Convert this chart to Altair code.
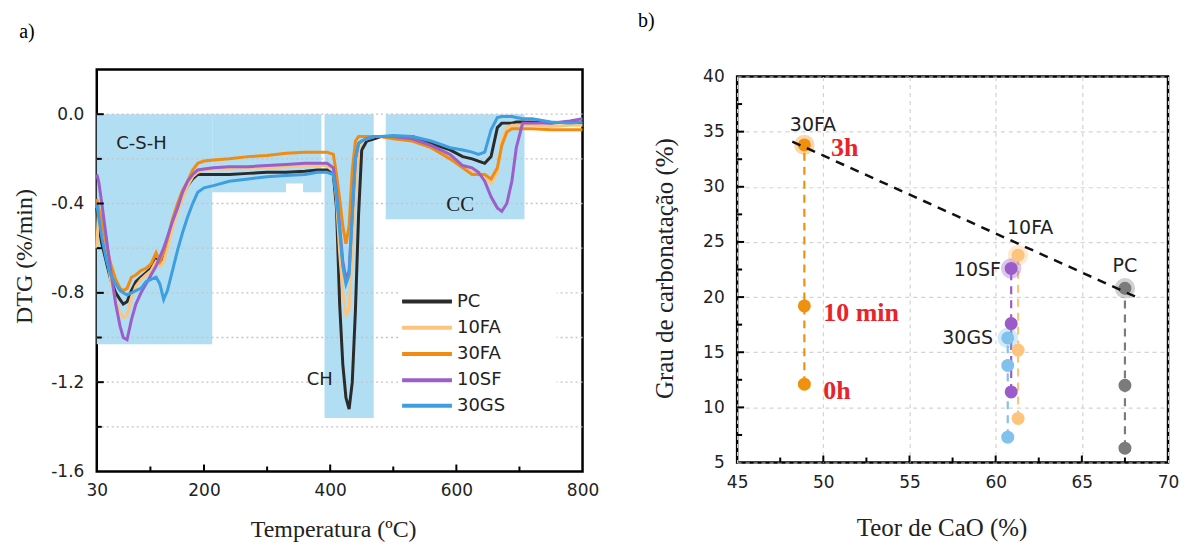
import altair as alt
import pandas as pd

# ---------------- Panel a) DTG curves ----------------
temperature = [30, 33, 38, 45, 52, 60, 67, 72, 78, 85,
               92, 100, 108, 116, 124, 130, 136, 142, 150, 158,
               166, 174, 182, 190, 200, 215, 240, 270, 300, 330,
               360, 380, 395, 405, 410, 415, 420, 425, 430, 435,
               440, 445, 450, 458, 470, 480, 500, 530, 560, 590,
               610, 625, 635, 645, 655, 665, 672, 680, 688, 695,
               705, 720, 750, 780, 800]

dtg_pc = [-0.42, -0.50, -0.58, -0.66, -0.74, -0.80, -0.83, -0.85, -0.84, -0.79,
          -0.75, -0.73, -0.71, -0.69, -0.65, -0.66, -0.64, -0.58, -0.50, -0.43,
          -0.37, -0.32, -0.29, -0.27, -0.27, -0.27, -0.27, -0.265, -0.26, -0.26,
          -0.255, -0.25, -0.25, -0.27, -0.42, -0.85, -1.12, -1.27, -1.32, -1.20,
          -0.88, -0.45, -0.16, -0.12, -0.11, -0.10, -0.10, -0.10, -0.13, -0.16,
          -0.19, -0.20, -0.21, -0.22, -0.19, -0.06, -0.04, -0.04, -0.04, -0.035,
          -0.035, -0.035, -0.04, -0.035, -0.04]

dtg_10fa = [-0.60, -0.42, -0.50, -0.62, -0.74, -0.84, -0.89, -0.91, -0.90, -0.82,
            -0.77, -0.74, -0.72, -0.70, -0.66, -0.68, -0.66, -0.60, -0.51, -0.44,
            -0.38, -0.32, -0.28, -0.26, -0.25, -0.245, -0.245, -0.24, -0.24, -0.235,
            -0.23, -0.23, -0.23, -0.25, -0.38, -0.62, -0.80, -0.90, -0.88, -0.62,
            -0.32, -0.16, -0.12, -0.11, -0.10, -0.10, -0.105, -0.11, -0.15, -0.19,
            -0.23, -0.25, -0.26, -0.28, -0.31, -0.26, -0.12, -0.06, -0.05, -0.05,
            -0.05, -0.05, -0.055, -0.05, -0.05]

dtg_30fa = [-0.38, -0.42, -0.48, -0.58, -0.67, -0.74, -0.78, -0.79, -0.78, -0.73,
            -0.72, -0.70, -0.69, -0.67, -0.62, -0.66, -0.62, -0.56, -0.47, -0.40,
            -0.34, -0.30, -0.25, -0.22, -0.21, -0.205, -0.20, -0.19, -0.185, -0.175,
            -0.17, -0.17, -0.17, -0.18, -0.27, -0.38, -0.50, -0.58, -0.50, -0.25,
            -0.12, -0.10, -0.10, -0.10, -0.10, -0.10, -0.11, -0.12, -0.15, -0.20,
            -0.24, -0.27, -0.27, -0.27, -0.29, -0.24, -0.14, -0.08, -0.065, -0.065,
            -0.065, -0.065, -0.07, -0.07, -0.07]

dtg_10sf = [-0.27, -0.30, -0.40, -0.55, -0.70, -0.85, -0.95, -1.00, -1.01, -0.92,
            -0.85, -0.80, -0.76, -0.72, -0.68, -0.64, -0.60, -0.55, -0.48, -0.42,
            -0.35, -0.30, -0.27, -0.25, -0.245, -0.24, -0.235, -0.235, -0.23, -0.225,
            -0.22, -0.22, -0.22, -0.24, -0.35, -0.50, -0.66, -0.74, -0.70, -0.45,
            -0.20, -0.13, -0.12, -0.11, -0.10, -0.10, -0.10, -0.11, -0.14, -0.18,
            -0.23, -0.24, -0.26, -0.30, -0.37, -0.42, -0.435, -0.40, -0.30, -0.15,
            -0.04, -0.04, -0.04, -0.03, -0.02]

dtg_30gs = [-0.40, -0.46, -0.55, -0.65, -0.72, -0.76, -0.79, -0.80, -0.81, -0.80,
            -0.79, -0.78, -0.75, -0.74, -0.73, -0.76, -0.83, -0.79, -0.70, -0.61,
            -0.53, -0.46, -0.40, -0.35, -0.33, -0.32, -0.30, -0.29, -0.28, -0.275,
            -0.27, -0.26, -0.26, -0.27, -0.36, -0.52, -0.68, -0.76, -0.72, -0.45,
            -0.20, -0.13, -0.12, -0.11, -0.10, -0.10, -0.095, -0.10, -0.12, -0.15,
            -0.16, -0.17, -0.18, -0.17, -0.07, -0.015, -0.01, -0.01, -0.01, -0.015,
            -0.02, -0.02, -0.035, -0.04, -0.035]

series_a = ["PC", "10FA", "30FA", "10SF", "30GS"]
colors_a = ["#2b2b2b", "#fcc57f", "#f08c12", "#9a5fcb", "#3d9ee0"]
values_a = [dtg_pc, dtg_10fa, dtg_30fa, dtg_10sf, dtg_30gs]

# shaded regions (C-S-H, CH, CC)
region_x1 = [30, 213, 330, 357, 391, 488]
region_x2 = [213, 330, 357, 386, 469, 708]
region_y1 = [0.0, 0.0, 0.0, 0.0, 0.0, 0.0]
region_y2 = [-1.03, -0.35, -0.31, -0.35, -1.36, -0.47]

grid_a = [-1.4, -1.2, -1.0, -0.8, -0.6, -0.4, -0.2, 0.0]
xlabels_a = [30, 200, 400, 600, 800]
ylabels_a = [-1.6, -1.2, -0.8, -0.4, 0.0]
xt_major_a = [200, 400, 600]
xt_minor_a = [115, 300, 500, 700]
yt_major_a = [-1.2, -0.8, -0.4, 0.0]
yt_minor_a = [-1.4, -1.0, -0.6, -0.2]

legend_rows_y = [-0.839, -0.956, -1.074, -1.191, -1.306]

# ---------------- Panel b) carbonation vs CaO ----------------
groups_b = ["30FA", "10FA", "10SF", "30GS", "PC"]
cao_b = [48.9, 61.3, 60.9, 60.7, 67.5]
carb_0h = [12.1, 9.0, 11.4, 7.3, 6.3]
carb_10min = [19.2, 15.2, 17.6, 13.8, 12.0]
carb_3h = [33.8, 23.8, 22.6, 16.3, 20.8]
colors_b = ["#f0900f", "#fcc47c", "#9b5cc9", "#80c2ec", "#7b7b7b"]

trend_x = [48.2, 68.3]
trend_y = [34.1, 19.9]

label_b_x = [49.4, 62.0, 60.3, 59.85, 67.5]
label_b_y = [35.6, 26.3, 22.5, 16.3, 22.8]
time_labels = ["3h", "10 min", "0h"]
time_label_x = [50.45, 50.0, 50.0]
time_label_y = [33.5, 18.6, 11.5]

xlabels_b = [45, 50, 55, 60, 65, 70]
ylabels_b = [5, 10, 15, 20, 25, 30, 35, 40]
xt_major_b = [50, 55, 60, 65]
xt_minor_b = [47.5, 52.5, 57.5, 62.5, 67.5]
yt_major_b = [10, 15, 20, 25, 30, 35]
yt_minor_b = [7.5, 12.5, 17.5, 22.5, 27.5, 32.5, 37.5]

SANS = "DejaVu Sans"
SERIF = "Liberation Serif"

# =============== build panel a ===============
WA, HA = 487, 403
xs_a = alt.Scale(domain=[30, 800], nice=False, zero=False)
ys_a = alt.Scale(domain=[-1.6, 0.2], nice=False, zero=False)
ax_xa = alt.Axis(values=xlabels_a, title="Temperatura (ºC)", ticks=False, tickSize=0,
                 domain=False, grid=False, labelFont=SANS, labelFontSize=17,
                 labelColor="#222", labelPadding=11, labelFlush=False,
                 titleFont=SERIF, titleFontSize=24, titleFontWeight="normal",
                 titleColor="#222", titleX=237, titleY=58, titleBaseline="middle",
                 titleAlign="center")
ax_ya = alt.Axis(values=ylabels_a, title="DTG (%/min)", ticks=False, tickSize=0,
                 domain=False, grid=False, labelFont=SANS, labelFontSize=17,
                 labelColor="#222", labelPadding=13, labelFlush=False,
                 labelExpr="datum.value < 0 ? '-' + format(-datum.value, '.1f') : format(datum.value, '.1f')",
                 titleFont=SERIF, titleFontSize=24, titleFontWeight="normal",
                 titleColor="#222", titleX=-72, titleY=187, titleAngle=270,
                 titleBaseline="middle", titleAlign="center")

def XA(f):
    return alt.X(f, type="quantitative", scale=xs_a, axis=ax_xa)

def YA(f):
    return alt.Y(f, type="quantitative", scale=ys_a, axis=ax_ya)

reg_df = pd.DataFrame({"x1": region_x1, "x2": region_x2, "y1": region_y1, "y2": region_y2})
shade = alt.Chart(reg_df).mark_rect(color="#b2def3").encode(
    x=XA("x1"), x2="x2", y=YA("y1"), y2="y2")

grid_df = pd.DataFrame({"g": grid_a})
grid = alt.Chart(grid_df).mark_rule(color="#c4c4c4", strokeDash=[2, 3], strokeWidth=1.3).encode(
    y=YA("g"))

leg_bg_df = pd.DataFrame({"x1": [509], "x2": [759], "y1": [-0.77], "y2": [-1.36]})
leg_bg = alt.Chart(leg_bg_df).mark_rect(color="white").encode(
    x=XA("x1"), x2="x2", y=YA("y1"), y2="y2")

layers_a = [shade, grid, leg_bg]
for name, col, vals in zip(series_a, colors_a, values_a):
    d = pd.DataFrame({"T": temperature, "v": vals})
    layers_a.append(alt.Chart(d).mark_line(color=col, strokeWidth=3).encode(
        x=XA("T"), y=YA("v")))

# hand-built legend (line sample + label), one entry per series
for name, col, ly in zip(series_a, colors_a, legend_rows_y):
    d = pd.DataFrame({"name": [name], "y": [ly], "x1": [514], "x2": [593], "xt": [601]})
    layers_a.append(alt.Chart(d).mark_rule(strokeWidth=4, color=col).encode(
        x=XA("x1"), x2="x2", y=YA("y")))
    layers_a.append(alt.Chart(d).mark_text(align="left", baseline="middle", font=SANS,
                                           fontSize=18, color="#222").encode(
        x=XA("xt"), y=YA("y"), text="name:N"))

csh = alt.Chart(pd.DataFrame({"t": ["C-S-H"], "x": [61], "y": [-0.132]})).mark_text(
    align="left", baseline="middle", font=SANS, fontSize=18, color="#222").encode(
    x=XA("x"), y=YA("y"), text="t:N")
ch = alt.Chart(pd.DataFrame({"t": ["CH"], "x": [404], "y": [-1.19]})).mark_text(
    align="right", baseline="middle", font=SANS, fontSize=18, color="#222").encode(
    x=XA("x"), y=YA("y"), text="t:N")
cc = alt.Chart(pd.DataFrame({"t": ["CC"], "x": [606], "y": [-0.406]})).mark_text(
    align="center", baseline="middle", font=SERIF, fontSize=21, color="#222").encode(
    x=XA("x"), y=YA("y"), text="t:N")
layers_a += [csh, ch, cc]

# inward ticks
layers_a.append(alt.Chart(pd.DataFrame({"v": yt_major_a})).mark_rule(color="black", strokeWidth=2).encode(
    y=YA("v"), x=alt.value(0), x2=alt.value(7)))
layers_a.append(alt.Chart(pd.DataFrame({"v": yt_minor_a})).mark_rule(color="black", strokeWidth=2).encode(
    y=YA("v"), x=alt.value(0), x2=alt.value(5)))
layers_a.append(alt.Chart(pd.DataFrame({"v": xt_major_a})).mark_rule(color="black", strokeWidth=2).encode(
    x=XA("v"), y=alt.value(HA), y2=alt.value(HA - 7)))
layers_a.append(alt.Chart(pd.DataFrame({"v": xt_minor_a})).mark_rule(color="black", strokeWidth=2).encode(
    x=XA("v"), y=alt.value(HA), y2=alt.value(HA - 5)))

layers_a.append(alt.Chart(pd.DataFrame({"t": ["a)"]})).mark_text(
    align="center", baseline="middle", font=SERIF, fontSize=20, color="black").encode(
    x=alt.value(-70), y=alt.value(-38), text="t:N"))

panel_a = alt.layer(*layers_a).properties(width=WA, height=HA)

# =============== build panel b ===============
WB, HB = 432, 387
xs_b = alt.Scale(domain=[45, 70], nice=False, zero=False)
ys_b = alt.Scale(domain=[5, 40], nice=False, zero=False)
ax_xb = alt.Axis(values=xlabels_b, title="Teor de CaO (%)", ticks=False, tickSize=0,
                 domain=False, grid=True, gridDash=[4, 4], gridColor="#d4d4d4", gridWidth=1.2,
                 labelFont=SANS, labelFontSize=17, labelColor="#222", labelPadding=12,
                 labelFlush=False, titleFont=SERIF, titleFontSize=25, titleFontWeight="normal",
                 titleColor="#222", titleX=205, titleY=65, titleBaseline="middle",
                 titleAlign="center")
ax_yb = alt.Axis(values=ylabels_b, title="Grau de carbonatação (%)", ticks=False, tickSize=0,
                 domain=False, grid=True, gridDash=[4, 4], gridColor="#d4d4d4", gridWidth=1.2,
                 labelFont=SANS, labelFontSize=17, labelColor="#222", labelPadding=13,
                 labelFlush=False, titleFont=SERIF, titleFontSize=25, titleFontWeight="normal",
                 titleColor="#222", titleX=-73, titleY=192, titleAngle=270,
                 titleBaseline="middle", titleAlign="center")

def XB(f):
    return alt.X(f, type="quantitative", scale=xs_b, axis=ax_xb)

def YB(f):
    return alt.Y(f, type="quantitative", scale=ys_b, axis=ax_yb)

col_b = alt.Color("g:N", scale=alt.Scale(domain=groups_b, range=colors_b), legend=None)

conn_df = pd.DataFrame({"g": groups_b, "x": cao_b, "lo": carb_0h, "hi": carb_3h})
conn = alt.Chart(conn_df).mark_rule(strokeDash=[8, 6], strokeWidth=2.2).encode(
    x=XB("x"), y=YB("lo"), y2="hi", color=col_b)

halo_df = pd.DataFrame({"g": groups_b, "x": cao_b, "y": carb_3h})
halo = alt.Chart(halo_df).mark_circle(size=420, opacity=0.35).encode(
    x=XB("x"), y=YB("y"), color=col_b)

pts_rows = []
for g, x, a, b, c in zip(groups_b, cao_b, carb_0h, carb_10min, carb_3h):
    for v in (a, b, c):
        pts_rows.append({"g": g, "x": x, "y": v})
pts_df = pd.DataFrame(pts_rows)
pts = alt.Chart(pts_df).mark_circle(size=170, opacity=1).encode(
    x=XB("x"), y=YB("y"), color=col_b)

trend_df = pd.DataFrame({"x": trend_x, "y": trend_y})
trend = alt.Chart(trend_df).mark_line(color="#111", strokeWidth=2.5, strokeDash=[9, 7]).encode(
    x=XB("x"), y=YB("y"))

lab_df = pd.DataFrame({"t": groups_b, "x": label_b_x, "y": label_b_y})
lab_center = alt.Chart(lab_df[lab_df.t.isin(["30FA", "10FA", "PC"])]).mark_text(
    align="center", baseline="middle", font=SANS, fontSize=19, color="#222").encode(
    x=XB("x"), y=YB("y"), text="t:N")
lab_right = alt.Chart(lab_df[lab_df.t.isin(["10SF", "30GS"])]).mark_text(
    align="right", baseline="middle", font=SANS, fontSize=19, color="#222").encode(
    x=XB("x"), y=YB("y"), text="t:N")

time_df = pd.DataFrame({"t": time_labels, "x": time_label_x, "y": time_label_y})
time_lab = alt.Chart(time_df).mark_text(
    align="left", baseline="middle", font=SERIF, fontSize=26, fontWeight="bold",
    color="#e8232a").encode(x=XB("x"), y=YB("y"), text="t:N")

ticks_b = [
    alt.Chart(pd.DataFrame({"v": yt_major_b})).mark_rule(color="black", strokeWidth=2).encode(
        y=YB("v"), x=alt.value(0), x2=alt.value(7)),
    alt.Chart(pd.DataFrame({"v": yt_minor_b})).mark_rule(color="black", strokeWidth=2).encode(
        y=YB("v"), x=alt.value(0), x2=alt.value(5)),
    alt.Chart(pd.DataFrame({"v": xt_major_b})).mark_rule(color="black", strokeWidth=2).encode(
        x=XB("v"), y=alt.value(HB), y2=alt.value(HB - 7)),
    alt.Chart(pd.DataFrame({"v": xt_minor_b})).mark_rule(color="black", strokeWidth=2).encode(
        x=XB("v"), y=alt.value(HB), y2=alt.value(HB - 5)),
]

b_label = alt.Chart(pd.DataFrame({"t": ["b)"]})).mark_text(
    align="center", baseline="middle", font=SERIF, fontSize=20, color="black").encode(
    x=alt.value(-91), y=alt.value(-56), text="t:N")

panel_b = alt.layer(conn, halo, pts, trend, lab_center, lab_right, time_lab,
                    *ticks_b, b_label).properties(width=WB, height=HB)

spacer = alt.Chart(pd.DataFrame({"t": [" "]})).mark_text(opacity=0).encode(
    x=alt.value(0), y=alt.value(0), text="t:N").properties(
    width=WB, height=7, view=alt.ViewBackground(stroke="transparent"))

right = alt.vconcat(spacer, panel_b, spacing=0, bounds="flush")

chart = alt.hconcat(panel_a, right, spacing=155, bounds="flush").resolve_scale(
    color="independent"
).properties(
    padding={"left": 3, "top": 0, "right": 0, "bottom": 0},
    background="white"
).configure_view(stroke="black", strokeWidth=2.5)

chart.save("out.html", embed_options={"renderer": "svg", "actions": False})
